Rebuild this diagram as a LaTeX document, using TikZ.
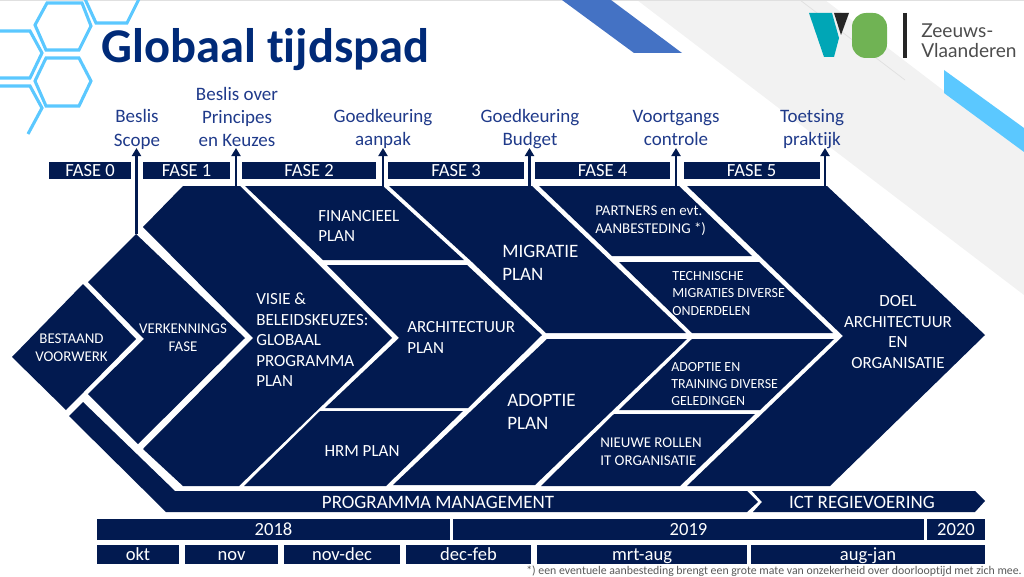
\documentclass[tikz,border=0pt]{standalone}
\usepackage{fontspec}
\setmainfont[Ligatures=NoCommon]{Carlito}
\newfontfamily\logofont{Lato}
\usepackage{xcolor}
\usetikzlibrary{arrows.meta}
\definecolor{navy}{HTML}{021A50}
\definecolor{titleblue}{HTML}{002A78}
\definecolor{labelblue}{HTML}{1F3A8A}
\definecolor{hexblue}{HTML}{5BC8FF}
\definecolor{stripeblue}{HTML}{4472C4}
\definecolor{bandgrey}{HTML}{F2F2F2}
\definecolor{logoteal}{HTML}{00A6B6}
\definecolor{logogreen}{HTML}{70B354}
\newlength\pxu
\setlength\pxu{0.025cm}
\tikzset{
  plan/.style={fill=navy},
  hexline/.style={draw=hexblue,line width=2.2pt},
  mijlpaal/.style={draw=navy,line width=1.9pt,-{Triangle[length=5.7pt,width=6.4pt]}},
  mijltxt/.style={text=labelblue,align=center,inner sep=0pt,font=\fontsize{13.5}{16.5}\selectfont},
  fasebar/.style={fill=navy,text=white,inner sep=0pt,minimum height=17\pxu,text height=12\pxu,text depth=0pt,font=\fontsize{13.2}{16}\selectfont},
  jaarbar/.style={fasebar,minimum height=21\pxu},
  maandbar/.style={fasebar,minimum height=19\pxu},
  plantxt/.style={text=white,inner sep=0pt,align=left,font=\fontsize{12.1}{14.6}\selectfont},
  klein/.style={plantxt,font=\fontsize{10.6}{12.8}\selectfont},
  kleiner/.style={plantxt,font=\fontsize{9.9}{12.2}\selectfont},
  groot/.style={plantxt,font=\fontsize{13.5}{16.4}\selectfont},
  balktxt/.style={groot,text height=12\pxu,text depth=0pt},
}
\begin{document}
\begin{tikzpicture}[x=0.025cm,y=-0.025cm]
\useasboundingbox (0,0) rectangle (1024,577);
% achtergrond
\fill[bandgrey] (637,0) -- (825,0) -- (1024,152) -- (1024,295) -- cycle;
\draw[black!12,line width=0.5pt] (800,0) -- (905,80);
\draw[black!12,line width=0.7pt] (0,0.4) -- (1024,0.4);
\fill[stripeblue] (562,0) -- (611,0) -- (682,53) -- (634,53) -- cycle;
\fill[hexblue] (944,70) -- (1024,128) -- (1024,152) -- (944,93) -- cycle;
% hexagons
\draw[hexline] (35,25) -- (47,3) -- (82,3) -- (91,26) -- (79,50) -- (46,50) -- cycle;
\draw[hexline] (35,81) -- (46,58) -- (79,58) -- (91,81) -- (79,106) -- (46,106) -- cycle;
\draw[hexline] (85,-1) -- (96,23) -- (127,23) -- (139,-1);
\draw[hexline] (-1,31) -- (30,31) -- (42,53) -- (30,78) -- (-1,78);
\draw[hexline] (-1,86) -- (30,86) -- (42,108) -- (28,134);
\node[anchor=base west,inner sep=0pt,text=titleblue,font=\fontsize{34.5}{36}\selectfont\bfseries] (titel) at (101,63) {Globaal tijdspad};
% logo
\fill[logoteal] (809,13) -- (832,13) -- (839,38) -- (834,57) -- (824,57) -- cycle;
\fill[black!85] (834,13) -- (849,13) -- (841,35) -- cycle;
\fill[logogreen,rounded corners=14\pxu] (852,13) rectangle (887,58);
\draw[black!85,line width=2.2pt] (905,13) -- (905,58);
\node[anchor=base west,inner sep=0pt,text=black!70,align=left,font=\logofont\fontsize{13.6}{14.4}\selectfont] (zeeuws) at (921,38) {Zeeuws-};
\node[anchor=base west,inner sep=0pt,text=black!70,align=left,font=\logofont\fontsize{13.6}{14.4}\selectfont] (vlaanderen) at (921,58) {Vlaanderen};
% vlakken
\fill[plan] (12,357) -- (83,284) -- (136,339) -- (66,410) -- cycle;
\fill[plan] (136,234) -- (245,338) -- (138,444) -- (88,394) -- (144,339) -- (88,282) -- cycle;
\fill[plan] (143,227) -- (183,186) -- (240,186) -- (392,338) -- (239,486) -- (183,486) -- (143,449) -- (253,338) -- cycle;
\fill[plan] (245,186) -- (383,186) -- (464,260) -- (323,260) -- cycle;
\fill[plan] (327,265) -- (467,265) -- (542,335) -- (468,408) -- (325,408) -- (399,338) -- cycle;
\fill[plan] (320,411) -- (463,411) -- (386,486) -- (244,486) -- cycle;
\fill[plan] (389,186) -- (532,186) -- (686,333) -- (546,333) -- (472,262) -- cycle;
\fill[plan] (547,339) -- (687,339) -- (535,485) -- (393,485) -- cycle;
\fill[plan] (539,186) -- (679,186) -- (752,256) -- (612,256) -- cycle;
\fill[plan] (619,262) -- (759,262) -- (833,333) -- (692,333) -- cycle;
\fill[plan] (692,339) -- (834,339) -- (760,410) -- (619,410) -- cycle;
\fill[plan] (614,414) -- (755,414) -- (680,486) -- (541,486) -- cycle;
\fill[plan] (687,186) -- (827,186) -- (985,335) -- (830,486) -- (687,486) -- (843,336) -- cycle;
\fill[plan] (83,402) -- (175,491) -- (747,491) -- (758,502) -- (747,512) -- (166,512) -- (69,416) -- cycle;
\fill[plan] (752,491) -- (975,491) -- (985,501) -- (975,512) -- (753,512) -- (762,502) -- cycle;
% teksten in de vlakken
\node[klein,align=center] (bestaand) at (71.5,348) {BESTAAND\\VOORWERK};
\node[klein,align=center] (verkenning) at (183,338) {VERKENNINGS\\FASE};
\node[plantxt,anchor=west] (visie) at (256,340) {VISIE \&\\BELEIDSKEUZES:\\GLOBAAL\\PROGRAMMA\\PLAN};
\node[plantxt,anchor=west] (financieel) at (318,226) {FINANCIEEL\\PLAN};
\node[plantxt,anchor=west] (architectuur) at (407,337.5) {ARCHITECTUUR\\PLAN};
\node[plantxt] (hrm) at (362,451) {HRM PLAN};
\node[groot,anchor=west] (migratie) at (502,263) {MIGRATIE\\PLAN};
\node[groot,anchor=west] (adoptie) at (507,412) {ADOPTIE\\PLAN};
\node[klein,anchor=west] (partners) at (595,221) {PARTNERS en evt.\\AANBESTEDING *)};
\node[kleiner,anchor=west] (technische) at (672,293.5) {TECHNISCHE\\MIGRATIES DIVERSE\\ONDERDELEN};
\node[kleiner,anchor=west] (training) at (671,384) {ADOPTIE EN\\TRAINING DIVERSE\\GELEDINGEN};
\node[klein,anchor=west] (rollen) at (600,452) {NIEUWE ROLLEN\\IT ORGANISATIE};
\node[plantxt,align=center] (doel) at (898,332) {DOEL\\ARCHITECTUUR\\EN\\ORGANISATIE};
\node[balktxt] (programma) at (438,502) {PROGRAMMA MANAGEMENT};
\node[balktxt] (ict) at (862,502.5) {ICT REGIEVOERING};
% fases
\node[fasebar,minimum width=82\pxu] (fase0) at (90,170.5) {FASE 0};
\node[fasebar,minimum width=87\pxu] (fase1) at (186.5,170.5) {FASE 1};
\node[fasebar,minimum width=134\pxu] (fase2) at (309,170.5) {FASE 2};
\node[fasebar,minimum width=136\pxu] (fase3) at (456,170.5) {FASE 3};
\node[fasebar,minimum width=135\pxu] (fase4) at (602.5,170.5) {FASE 4};
\node[fasebar,minimum width=136\pxu] (fase5) at (751.5,170.5) {FASE 5};
% mijlpalen
\coordinate (voet0) at (136.5,234);
\coordinate (punt0) at (136.5,148);
\coordinate (voet1) at (236,187);
\coordinate (punt1) at (236,148);
\coordinate (voet2) at (383,187);
\coordinate (punt2) at (383,148);
\coordinate (voet3) at (529.5,187);
\coordinate (punt3) at (529.5,148);
\coordinate (voet4) at (676,187);
\coordinate (punt4) at (676,148);
\coordinate (voet5) at (825,187);
\coordinate (punt5) at (825,148);
\draw[mijlpaal] (voet0) -- (punt0);
\draw[mijlpaal] (voet1) -- (punt1);
\draw[mijlpaal] (voet2) -- (punt2);
\draw[mijlpaal] (voet3) -- (punt3);
\draw[mijlpaal] (voet4) -- (punt4);
\draw[mijlpaal] (voet5) -- (punt5);
\node[mijltxt] (scope) at (137,129.5) {Beslis\\Scope};
\node[mijltxt] (keuzes) at (237,117) {Beslis over\\Principes\\en Keuzes};
\node[mijltxt] (aanpak) at (383,129) {Goedkeuring\\aanpak};
\node[mijltxt] (budget) at (530,129) {Goedkeuring\\Budget};
\node[mijltxt] (controle) at (676,128) {Voortgangs\\controle};
\node[mijltxt] (praktijk) at (812,129) {Toetsing\\praktijk};
% jaren en maanden
\node[jaarbar,minimum width=353\pxu] (j2018) at (273.5,529) {2018};
\node[jaarbar,minimum width=471\pxu] (j2019) at (688.5,529) {2019};
\node[jaarbar,minimum width=58\pxu] (j2020) at (956,529) {2020};
\node[maandbar,minimum width=82\pxu] (okt) at (138,554.5) {okt};
\node[maandbar,minimum width=93\pxu] (nov) at (231.5,554.5) {nov};
\node[maandbar,minimum width=116\pxu] (novdec) at (342,554.5) {nov-dec};
\node[maandbar,minimum width=125\pxu] (decfeb) at (468.5,554.5) {dec-feb};
\node[maandbar,minimum width=210\pxu] (mrtaug) at (642,554.5) {mrt-aug};
\node[maandbar,minimum width=234\pxu] (augjan) at (868,554.5) {aug-jan};
\node[anchor=east,inner sep=0pt,text=black!65,font=\fontsize{8.4}{10}\selectfont] (voetnoot) at (1022,571) {*) een eventuele aanbesteding brengt een grote mate van onzekerheid over doorlooptijd met zich mee.};
\end{tikzpicture}
\end{document}
